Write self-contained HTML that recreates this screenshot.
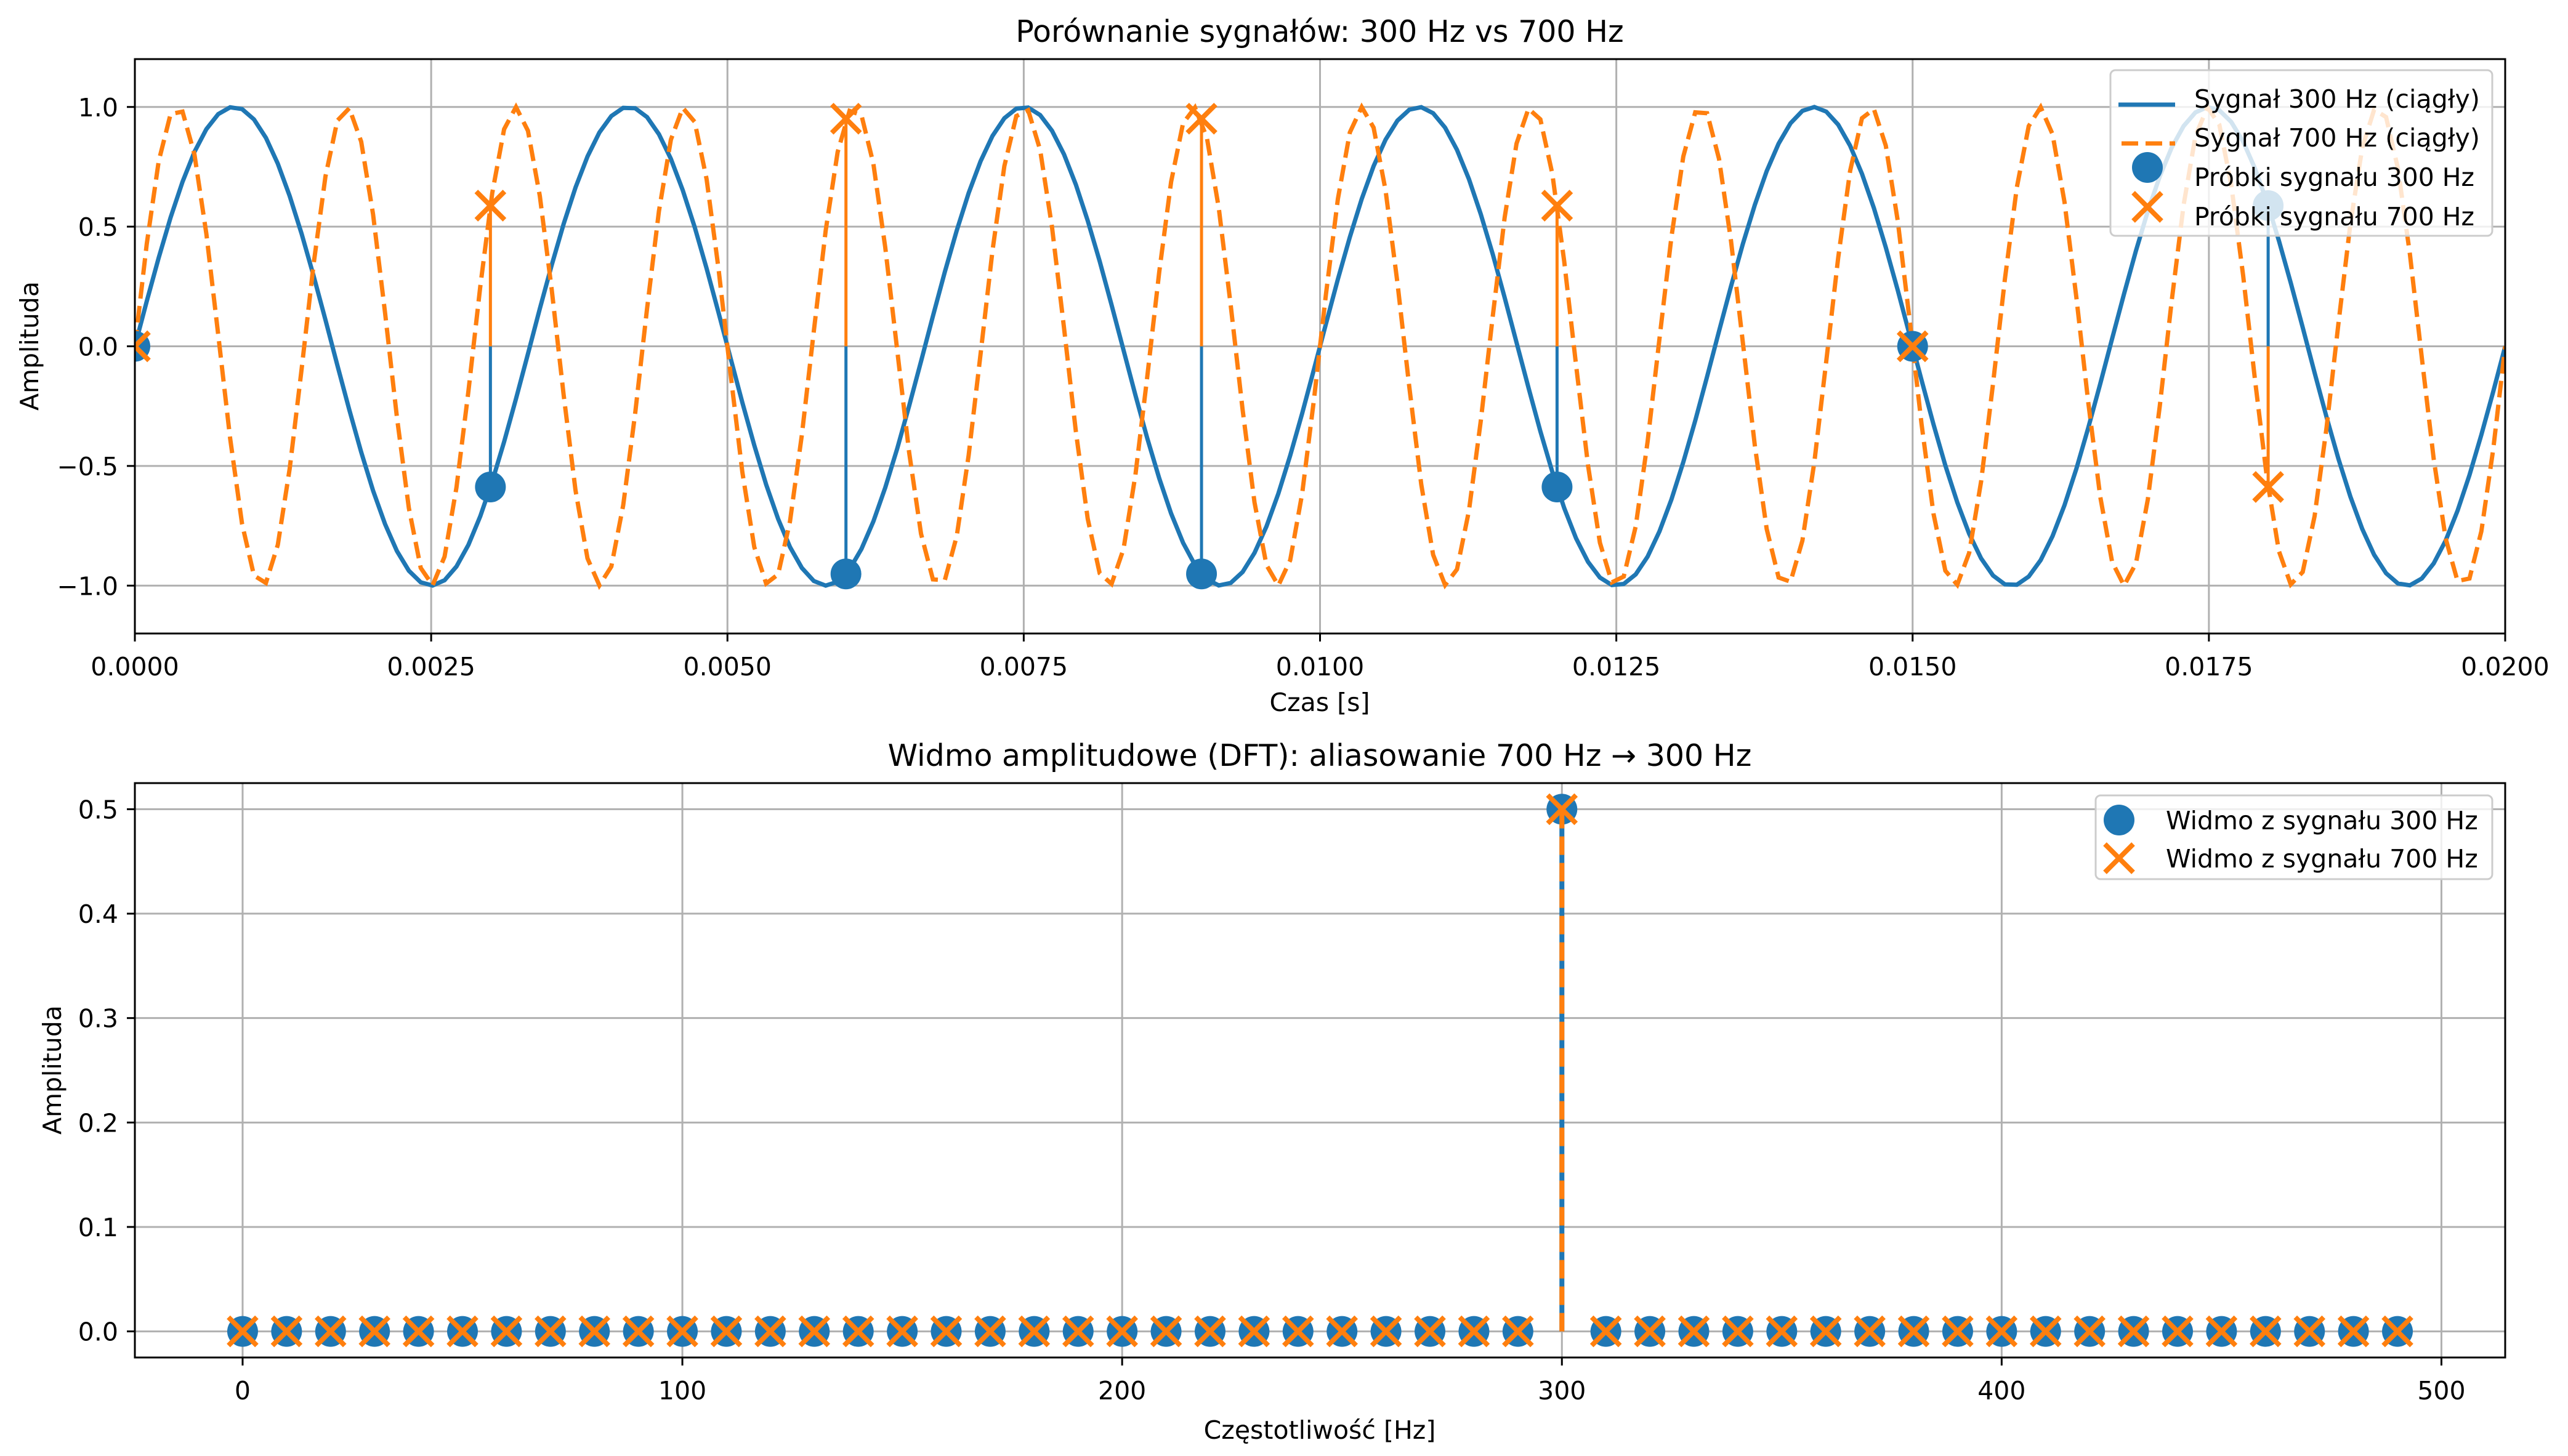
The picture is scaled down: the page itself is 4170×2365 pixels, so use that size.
<!DOCTYPE html>
<html><head><meta charset="utf-8"><style>
html,body{margin:0;padding:0;background:#fff}
svg{display:block}
text{font-family:"DejaVu Sans","Liberation Sans",sans-serif;fill:#000}
</style></head><body>
<svg id="s" xmlns="http://www.w3.org/2000/svg" width="4170" height="2365" viewBox="0 0 4170 2365"></svg>
<script>
const S=document.getElementById('s');let h='';
const L=219,R=4068;
const FS=41,TS=49;
const T1=96,B1=1029;
const tx=t=>L+(t/0.02)*(R-L);
const ty=v=>562.5-v*(466.5/1.2);
const T2=1272,B2=2205;
const fx=f=>L+(f+24.5)*(R-L)/539;
const fy=v=>B2-(v+0.025)*(B2-T2)/0.55;
const g='#b0b0b0';
for(let i=0;i<=8;i++){const x=tx(i*0.0025);h+=`<line x1="${x}" y1="${T1}" x2="${x}" y2="${B1}" stroke="${g}" stroke-width="3"/>`;}
for(let v=-1;v<=1.001;v+=0.5){const y=ty(v);h+=`<line x1="${L}" y1="${y}" x2="${R}" y2="${y}" stroke="${g}" stroke-width="3"/>`;}
h+=`<svg x="${L}" y="${T1}" width="${R-L}" height="${B1-T1}" viewBox="${L} ${T1} ${R-L} ${B1-T1}" overflow="hidden">`;
let p1='',p2='';
for(let i=0;i<200;i++){const t=i*0.02/199;p1+=(i?'L':'M')+tx(t).toFixed(1)+' '+ty(Math.sin(2*Math.PI*300*t)).toFixed(1);p2+=(i?'L':'M')+tx(t).toFixed(1)+' '+ty(Math.sin(2*Math.PI*700*t)).toFixed(1);}
h+=`<path d="${p1}" fill="none" stroke="#1f77b4" stroke-width="7"/>`;
h+=`<path d="${p2}" fill="none" stroke="#ff7f0e" stroke-width="7" stroke-dasharray="27 12"/>`;
const ts=[0,0.003,0.006,0.009,0.012,0.015,0.018];
ts.forEach(t=>{const v=Math.sin(2*Math.PI*300*t);h+=`<line x1="${tx(t)}" y1="${ty(0)}" x2="${tx(t)}" y2="${ty(v)}" stroke="#1f77b4" stroke-width="5"/>`;});
ts.forEach(t=>{const v=Math.sin(2*Math.PI*300*t);h+=`<circle cx="${tx(t)}" cy="${ty(v)}" r="25" fill="#1f77b4"/>`;});
const X=(x,y,c)=>`<path d="M${x-23} ${y-23}L${x+23} ${y+23}M${x-23} ${y+23}L${x+23} ${y-23}" stroke="${c}" stroke-width="8"/>`;
ts.forEach(t=>{const v=Math.sin(2*Math.PI*700*t);h+=`<line x1="${tx(t)}" y1="${ty(0)}" x2="${tx(t)}" y2="${ty(v)}" stroke="#ff7f0e" stroke-width="5"/>`;});
ts.forEach(t=>{const v=Math.sin(2*Math.PI*700*t);h+=X(tx(t),ty(v),'#ff7f0e');});
h+='</svg>';
h+=`<rect x="${L}" y="${T1}" width="${R-L}" height="${B1-T1}" fill="none" stroke="#000" stroke-width="3"/>`;
for(let i=0;i<=8;i++){const x=tx(i*0.0025);h+=`<line x1="${x}" y1="${B1}" x2="${x}" y2="${B1+13}" stroke="#000" stroke-width="3"/><text x="${x}" y="${B1+68}" font-size="${FS}" text-anchor="middle">${(i*0.0025).toFixed(4)}</text>`;}
[[1,'1.0'],[0.5,'0.5'],[0,'0.0'],[-0.5,'\u22120.5'],[-1,'\u22121.0']].forEach(([v,s])=>{const y=ty(v);h+=`<line x1="${L-13}" y1="${y}" x2="${L}" y2="${y}" stroke="#000" stroke-width="3"/><text x="192" y="${y+15}" font-size="${FS}" text-anchor="end">${s}</text>`;});
h+=`<text x="2143" y="68" font-size="${TS}" text-anchor="middle">Porównanie sygnałów: 300 Hz vs 700 Hz</text>`;
h+=`<text x="2143" y="1155" font-size="${FS}" text-anchor="middle">Czas [s]</text>`;
h+=`<text transform="translate(62 562) rotate(-90)" font-size="${FS}" text-anchor="middle">Amplituda</text>`;
h+=`<rect x="3427" y="114" width="620" height="269" rx="8" fill="#fff" fill-opacity="0.8" stroke="#ccc" stroke-width="3"/>`;
h+=`<line x1="3440" y1="170" x2="3532" y2="170" stroke="#1f77b4" stroke-width="7"/>`;
h+=`<line x1="3445" y1="233" x2="3532" y2="233" stroke="#ff7f0e" stroke-width="7" stroke-dasharray="27 12"/>`;
h+=`<circle cx="3487" cy="272" r="25" fill="#1f77b4"/>`+X(3487,336,'#ff7f0e');
[['Sygnał 300 Hz (ciągły)',183],['Sygnał 700 Hz (ciągły)',246],['Próbki sygnału 300 Hz',310],['Próbki sygnału 700 Hz',374]].forEach(([s,y])=>{h+=`<text x="3563" y="${y-8}" font-size="${FS}" textLength="${s.indexOf('(')>0?464:455}" lengthAdjust="spacingAndGlyphs">${s}</text>`;});
for(let f=0;f<=500;f+=100){const x=fx(f);h+=`<line x1="${x}" y1="${T2}" x2="${x}" y2="${B2}" stroke="${g}" stroke-width="3"/>`;}
for(let i=0;i<=5;i++){const y=fy(i/10);h+=`<line x1="${L}" y1="${y}" x2="${R}" y2="${y}" stroke="${g}" stroke-width="3"/>`;}
h+=`<line x1="${fx(300)}" y1="${fy(0)}" x2="${fx(300)}" y2="${fy(0.5)}" stroke="#1f77b4" stroke-width="8"/>`;
for(let f=0;f<500;f+=10){const v=f==300?0.5:0;h+=`<circle cx="${fx(f)}" cy="${fy(v)}" r="25" fill="#1f77b4"/>`;}
h+=`<line x1="${fx(300)}" y1="${fy(0)}" x2="${fx(300)}" y2="${fy(0.5)}" stroke="#ff7f0e" stroke-width="8" stroke-dasharray="30 13"/>`;
for(let f=0;f<500;f+=10){const v=f==300?0.5:0;h+=X(fx(f),fy(v),'#ff7f0e');}
h+=`<rect x="${L}" y="${T2}" width="${R-L}" height="${B2-T2}" fill="none" stroke="#000" stroke-width="3"/>`;
for(let f=0;f<=500;f+=100){const x=fx(f);h+=`<line x1="${x}" y1="${B2}" x2="${x}" y2="${B2+13}" stroke="#000" stroke-width="3"/><text x="${x}" y="${B2+68}" font-size="${FS}" text-anchor="middle">${f}</text>`;}
for(let i=0;i<=5;i++){const y=fy(i/10);h+=`<line x1="${L-13}" y1="${y}" x2="${L}" y2="${y}" stroke="#000" stroke-width="3"/><text x="192" y="${y+15}" font-size="${FS}" text-anchor="end">0.${i}</text>`;}
h+=`<text x="2143" y="1244" font-size="${TS}" text-anchor="middle">Widmo amplitudowe (DFT): aliasowanie 700 Hz → 300 Hz</text>`;
h+=`<text x="2143" y="2337" font-size="${FS}" text-anchor="middle">Częstotliwość [Hz]</text>`;
h+=`<text transform="translate(99 1738) rotate(-90)" font-size="${FS}" text-anchor="middle">Amplituda</text>`;
h+=`<rect x="3403" y="1292" width="644" height="136" rx="8" fill="#fff" fill-opacity="0.8" stroke="#ccc" stroke-width="3"/>`;
h+=`<circle cx="3441" cy="1332" r="25" fill="#1f77b4"/>`+X(3441,1394,'#ff7f0e');
h+=`<text x="3517" y="1347" font-size="${FS}">Widmo z sygnału 300 Hz</text><text x="3517" y="1409" font-size="${FS}">Widmo z sygnału 700 Hz</text>`;
S.innerHTML=h;
</script>
</body></html>
